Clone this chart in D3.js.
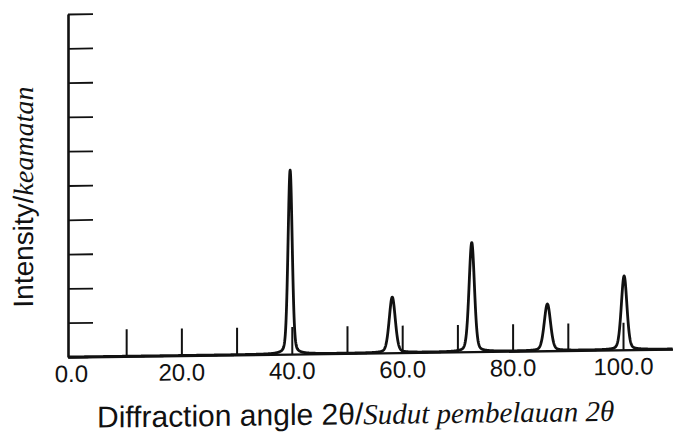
<!DOCTYPE html>
<html>
<head>
<meta charset="utf-8">
<script src="https://cdn.jsdelivr.net/npm/d3@7/dist/d3.min.js"></script>
<style>
  body { margin: 0; background: #fff; }
  .axis path, .axis line { stroke: #111; }
  .axis text { font-family: "Liberation Sans", Arial, sans-serif; font-size: 24px; fill: #111; }
</style>
</head>
<body>
<svg id="chart" width="673" height="439"></svg>
<script>
// peaks (2theta in degrees, intensity in tick units)
var PEAK_ANGLES = [39.7, 58.2, 72.6, 86.3, 100.2];
var PEAK_HEIGHTS = [5.36, 1.62, 3.18, 1.36, 2.15];
var PEAK_WIDTHS = [0.9, 1.3, 1.15, 1.35, 1.2]; // FWHM in degrees

var X_TICKS = [10, 20, 30, 40, 50, 60, 70, 80, 90, 100];
var X_LABELS = [0, 20, 40, 60, 80, 100];
var Y_TICKS = [0, 1, 2, 3, 4, 5, 6, 7, 8, 9, 10];

var X_DOMAIN = [-0.5, 109];
var Y_DOMAIN = [0, 10];

var $svg = d3.select('#chart');
// the scan is slightly skewed, lift the right side a little
var $root = $svg.append('g')
  .attr('transform', 'translate(68,357) skewY(-0.75) translate(-68,-357)');

var x = d3.scaleLinear().domain(X_DOMAIN).range([68.2, 672.7]);
var y = d3.scaleLinear().domain(Y_DOMAIN).range([357, 14]);

function profile (t) {
  // pseudo-voigt sum over the peaks
  var sum = 0;
  PEAK_ANGLES.forEach(function (c, i) {
    var w = PEAK_WIDTHS[i] / 2;
    var d = (t - c) / w;
    var g = Math.exp(-Math.LN2 * d * d);
    var l = 1 / (1 + d * d);
    sum += PEAK_HEIGHTS[i] * (0.75 * g + 0.25 * l);
  });
  return sum;
}

function drawAxes () {
  var $y = $root.append('g')
    .attr('class', 'axis')
    .attr('transform', 'translate(68,0)')
    .call(d3.axisLeft(y)
      .tickValues(Y_TICKS)
      .tickSizeInner(-25)
      .tickSizeOuter(0)
      .tickFormat(''));
  $y.select('.domain').attr('stroke-width', 2.6);
  $y.selectAll('.tick line').attr('stroke-width', 1.8);

  // upward ticks every 10 degrees, no labels
  var $xt = $root.append('g')
    .attr('class', 'axis')
    .attr('transform', 'translate(0,357)')
    .call(d3.axisBottom(x)
      .tickValues(X_TICKS)
      .tickSizeInner(-27)
      .tickSizeOuter(0)
      .tickFormat(''));
  $xt.select('.domain').attr('stroke-width', 2.3);
  $xt.selectAll('.tick line').attr('stroke-width', 2);

  // labels every 20 degrees
  var $xl = $root.append('g')
    .attr('class', 'axis')
    .attr('transform', 'translate(0,357)')
    .call(d3.axisBottom(x)
      .tickValues(X_LABELS)
      .tickSize(0)
      .tickPadding(8)
      .tickFormat(function (d) { return d.toFixed(1); }));
  $xl.select('.domain').remove();
}

function drawPattern () {
  var pts = d3.range(X_DOMAIN[0], X_DOMAIN[1], 0.04).map(function (t) {
    return [t, profile(t)];
  });
  var line = d3.line()
    .x(function (d) { return x(d[0]); })
    .y(function (d) { return y(d[1]); });
  $root.append('path')
    .datum(pts)
    .attr('d', line)
    .attr('fill', 'none')
    .attr('stroke', '#111')
    .attr('stroke-width', 2.8)
    .attr('stroke-linejoin', 'round');
}

function drawLabels () {
  var $yl = $root.append('text')
    .attr('transform', 'translate(33,307) rotate(-90)')
    .attr('fill', '#111');
  $yl.append('tspan')
    .style('font-family', '"Liberation Sans", Arial, sans-serif')
    .style('font-size', '28px')
    .text('Intensity/');
  $yl.append('tspan')
    .style('font-family', '"Liberation Serif", "Times New Roman", serif')
    .style('font-style', 'italic')
    .style('font-size', '28px')
    .text('keamatan');

  var $xl = $root.append('text')
    .attr('x', 97)
    .attr('y', 428)
    .attr('fill', '#111');
  $xl.append('tspan')
    .style('font-family', '"Liberation Sans", Arial, sans-serif')
    .style('font-size', '30px')
    .text('Diffraction angle 2θ/');
  $xl.append('tspan')
    .style('font-family', '"Liberation Serif", "Times New Roman", serif')
    .style('font-style', 'italic')
    .style('font-size', '29px')
    .text('Sudut pembelauan 2θ');
}

drawAxes();
drawPattern();
drawLabels();
</script>
</body>
</html>
